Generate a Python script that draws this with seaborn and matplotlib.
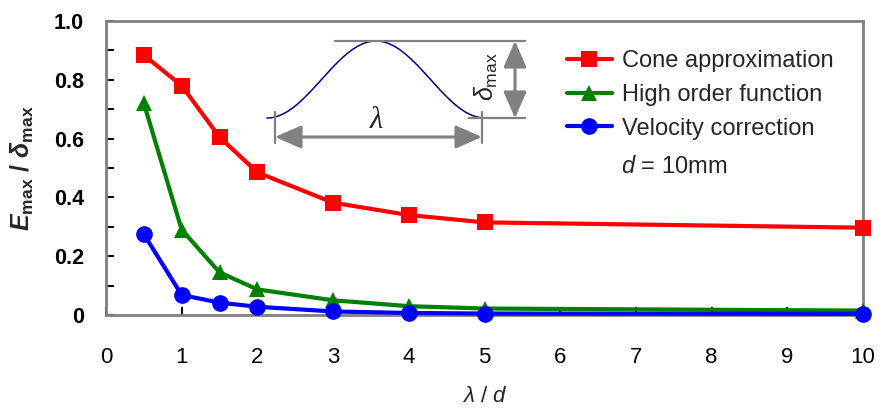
import numpy as np
import pandas as pd
import matplotlib
matplotlib.use("Agg")
import matplotlib.pyplot as plt
from matplotlib.lines import Line2D
import seaborn as sns

# =============================================================================
# data
# =============================================================================
lam_d = [0.5, 1, 1.5, 2, 3, 4, 5, 10]
cone = [0.884, 0.780, 0.605, 0.485, 0.382, 0.340, 0.315, 0.297]
high_order = [0.720, 0.290, 0.145, 0.087, 0.050, 0.030, 0.022, 0.015]
velocity = [0.275, 0.068, 0.042, 0.028, 0.012, 0.007, 0.005, 0.004]

series_names = ["Cone approximation", "High order function", "Velocity correction"]
x_ticks = list(range(0, 11))
y_ticks = [0, 0.2, 0.4, 0.6, 0.8, 1.0]
y_tick_labels = ["0", "0.2", "0.4", "0.6", "0.8", "1.0"]

df = pd.DataFrame({"lam_d": lam_d, series_names[0]: cone,
                   series_names[1]: high_order, series_names[2]: velocity})

# =============================================================================
# style
# =============================================================================
sns.set_theme(style="white")
plt.rcParams["font.family"] = ["Liberation Sans", "DejaVu Sans"]
plt.rcParams["mathtext.fontset"] = "custom"
plt.rcParams["mathtext.rm"] = "Liberation Sans"
plt.rcParams["mathtext.it"] = "Liberation Sans:italic"
plt.rcParams["mathtext.bf"] = "Liberation Sans:bold"
plt.rcParams["mathtext.bfit"] = "Liberation Sans:bold:italic"

GRAY = "#808080"
colors = ["#ff0000", "#008000", "#0000ff"]
markers = ["s", "^", "o"]
msizes = [11.5, 12, 12]

fig = plt.figure(figsize=(8.86, 4.12), dpi=100)
ax = fig.add_axes([106 / 886, 1 - 315 / 412, 757 / 886, 294 / 412])

for name, col, mk, ms in zip(series_names, colors, markers, msizes):
    sns.lineplot(data=df, x="lam_d", y=name, ax=ax, color=col, linewidth=3,
                 marker=mk, markersize=ms, markeredgecolor=col,
                 markeredgewidth=0, legend=False, clip_on=False, zorder=3)

ax.set_xlim(0, 10)
ax.set_ylim(0, 1.0)
ax.set_xticks(x_ticks)
ax.set_yticks(y_ticks)
ax.set_yticklabels(y_tick_labels, fontweight="bold")
ax.set_yticks(np.arange(0.1, 1.0, 0.2), minor=True)
ax.tick_params(axis="both", which="both", direction="in", length=6, width=1.5,
               color="black", labelcolor="black")
ax.tick_params(axis="x", labelsize=16, pad=23, bottom=True)
ax.tick_params(axis="y", labelsize=15.5, pad=16, left=True)
ax.tick_params(axis="y", which="minor", left=True)
for sp in ax.spines.values():
    sp.set_color(GRAY)
    sp.set_linewidth(2)

ax.set_xlabel(r"$\mathit{\lambda}$ / $\mathit{d}$", fontsize=16)
ax.xaxis.set_label_coords(0.5, -0.24)
ax.set_ylabel(r"$\mathbfit{E}_{\mathbf{max}}\ \mathbf{/}\ \mathbfit{\delta}_{\mathbf{max}}$",
              fontsize=18)
ax.yaxis.set_label_coords(-0.093, 0.5)

# legend
handles = [Line2D([], [], color=c, marker=m, linewidth=3, markersize=ms,
                  markeredgewidth=0) for c, m, ms in zip(colors, markers, msizes)]
ax.legend(handles, series_names, loc="upper left",
          bbox_to_anchor=(567 / 886, 1 - 50 / 412), bbox_transform=fig.transFigure,
          frameon=False, borderpad=0, borderaxespad=0, handlelength=1.9,
          handletextpad=0.45, labelspacing=0.5, fontsize=17)
fig.text(621 / 886, 1 - 167 / 412, r"$\mathit{d}$ = 10mm", fontsize=17,
         ha="left", va="center")

# =============================================================================
# schematic inset (pixel coordinates of the figure)
# =============================================================================
ov = fig.add_axes([0, 0, 1, 1], facecolor="none")
ov.set_xlim(0, 886)
ov.set_ylim(412, 0)
ov.axis("off")

t = np.linspace(0, 1, 200)
ov.plot(267 + 218 * t, 118 - 77 * (1 - np.cos(2 * np.pi * t)) / 2,
        color="#000080", linewidth=1.1)
ov.plot([335, 525], [41, 41], color=GRAY, linewidth=1.6)
ov.plot([469, 525], [118, 118], color=GRAY, linewidth=1.6)
ov.plot([275, 275], [112, 143], color=GRAY, linewidth=1.6)
ov.plot([482, 482], [112, 143], color=GRAY, linewidth=1.6)
arrow_kw = dict(arrowstyle="<|-|>,head_length=16,head_width=7", mutation_scale=1,
                color=GRAY, lw=2.2, shrinkA=0, shrinkB=0)
ov.annotate("", xy=(482, 137), xytext=(275, 137), arrowprops=arrow_kw)
ov.annotate("", xy=(515, 118), xytext=(515, 41), arrowprops=arrow_kw)
ov.text(376, 120, "λ", fontsize=22, fontstyle="italic", family="Liberation Serif",
        ha="center", va="center")
ov.text(486, 77, r"$\delta_{\mathrm{max}}$", fontsize=18, rotation=90,
        ha="center", va="center")

fig.savefig("out.png", dpi=100)
